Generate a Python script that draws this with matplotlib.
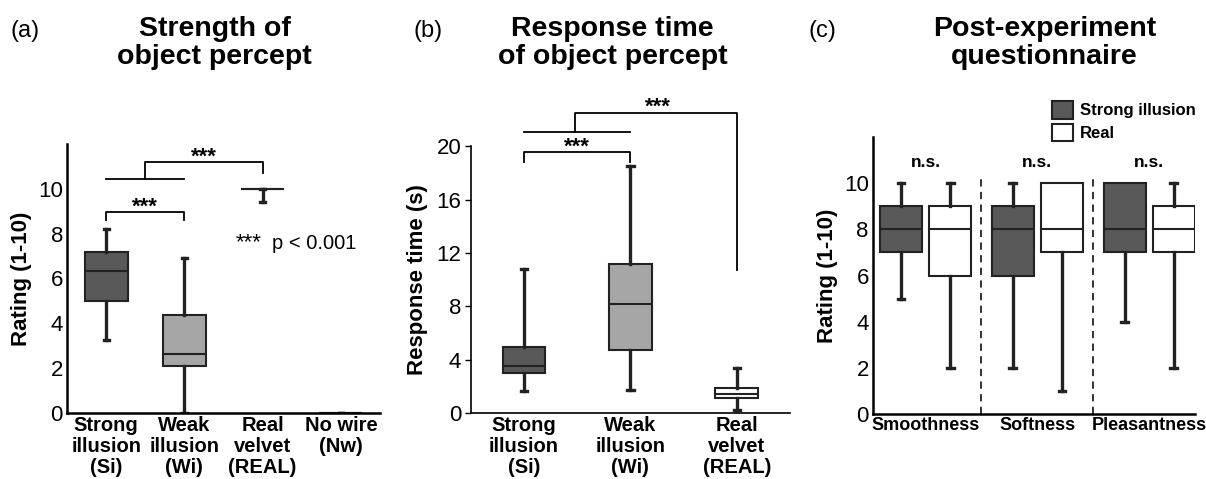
import matplotlib
matplotlib.use("Agg")
import matplotlib.pyplot as plt
from matplotlib.patches import Patch

plt.rcParams["font.family"] = ["Liberation Sans", "DejaVu Sans"]

# ── Data ───────────────────────────────────────────────────────────────────
# (a) strength of object percept: whislo, q1, med, q3, whishi
A_LABELS = ["Strong\nillusion\n(Si)", "Weak\nillusion\n(Wi)", "Real\nvelvet\n(REAL)", "No wire\n(Nw)"]
A_WHISLO = [3.25, 0.0, 9.4, 0.0]
A_Q1 = [5.0, 2.1, 10.0, 0.0]
A_MED = [6.35, 2.62, 10.0, 0.0]
A_Q3 = [7.2, 4.35, 10.0, 0.0]
A_WHISHI = [8.2, 6.9, 10.0, 0.0]

# (b) response time (s)
B_LABELS = ["Strong\nillusion\n(Si)", "Weak\nillusion\n(Wi)", "Real\nvelvet\n(REAL)"]
B_WHISLO = [1.65, 1.75, 0.25]
B_Q1 = [3.0, 4.75, 1.1]
B_MED = [3.55, 8.15, 1.4]
B_Q3 = [4.95, 11.2, 1.85]
B_WHISHI = [10.8, 18.5, 3.35]

# (c) questionnaire: Strong illusion vs Real for each item
C_ITEMS = ["Smoothness", "Softness", "Pleasantness"]
C_SI_WHISLO = [5, 2, 4]
C_SI_Q1 = [7, 6, 7]
C_SI_MED = [8, 8, 8]
C_SI_Q3 = [9, 9, 10]
C_SI_WHISHI = [10, 10, 10]
C_RE_WHISLO = [2, 1, 2]
C_RE_Q1 = [6, 7, 7]
C_RE_MED = [8, 8, 8]
C_RE_Q3 = [9, 10, 9]
C_RE_WHISHI = [10, 10, 10]

DARK = "#595959"
LIGHT = "#a6a6a6"
WHITE = "#ffffff"
EDGE = "#222222"


def stats(lo, q1, med, q3, hi):
    return [dict(whislo=a, q1=b, med=c, q3=d, whishi=e, fliers=[])
            for a, b, c, d, e in zip(lo, q1, med, q3, hi)]


def draw_boxes(ax, st, positions, colors, width):
    bp = ax.bxp(
        st, positions=positions, widths=width, patch_artist=True, showfliers=False,
        capwidths=0.06,
        boxprops=dict(edgecolor=EDGE, linewidth=1.5),
        medianprops=dict(color=EDGE, linewidth=1.5),
        whiskerprops=dict(color=EDGE, linewidth=2.4),
        capprops=dict(color=EDGE, linewidth=2.4),
    )
    for patch, c in zip(bp["boxes"], colors):
        patch.set_facecolor(c)
    # no cap where the whisker has zero length (box edge already marks it)
    for i, s in enumerate(st):
        if s["whishi"] == s["q3"] and s["q1"] != s["q3"]:
            bp["caps"][2 * i + 1].set_visible(False)
    return bp


def bracket(ax, x1, x2, y, drop, lw=1.3):
    ax.plot([x1, x1, x2, x2], [y - drop, y, y, y - drop], color="black", lw=lw, clip_on=False)


fig = plt.figure(figsize=(12.06, 4.79), dpi=100)

# ── (a) ────────────────────────────────────────────────────────────────────
axa = fig.add_axes([0.0556, 0.1378, 0.2595, 0.5616])
draw_boxes(axa, stats(A_WHISLO, A_Q1, A_MED, A_Q3, A_WHISHI), [1, 2, 3, 4],
           [DARK, LIGHT, WHITE, WHITE], 0.55)
axa.set_xlim(0.5, 4.5)
axa.set_ylim(0, 12)
axa.set_yticks([0, 2, 4, 6, 8, 10])
axa.set_xticks([1, 2, 3, 4])
axa.set_xticklabels(A_LABELS, fontsize=14.5, fontweight="bold", linespacing=1.15)
axa.set_ylabel("Rating (1-10)", fontsize=16, fontweight="bold", labelpad=4)
bracket(axa, 1, 2, 8.95, 0.35)
axa.text(1.5, 8.7, "***", ha="center", va="bottom", fontsize=16, fontweight="bold")
axa.plot([1, 2], [10.45, 10.45], color="black", lw=1.3)
axa.plot([1.49, 1.49, 3.0, 3.0], [10.45, 11.2, 11.2, 10.7], color="black", lw=1.3)
axa.text(2.25, 10.95, "***", ha="center", va="bottom", fontsize=16, fontweight="bold")
axa.text(2.65, 7.6, "***", ha="left", va="center", fontsize=16)
axa.text(3.12, 7.55, "p < 0.001", ha="left", va="center", fontsize=14.5)

# ── (b) ────────────────────────────────────────────────────────────────────
axb = fig.add_axes([0.3905, 0.1378, 0.2645, 0.557])
draw_boxes(axb, stats(B_WHISLO, B_Q1, B_MED, B_Q3, B_WHISHI), [1, 2, 3],
           [DARK, LIGHT, WHITE], 0.4)
axb.set_xlim(0.5, 3.5)
axb.set_ylim(0, 20)
axb.set_yticks([0, 4, 8, 12, 16, 20])
axb.set_xticks([1, 2, 3])
axb.set_xticklabels(B_LABELS, fontsize=14.5, fontweight="bold", linespacing=1.15)
axb.set_ylabel("Response time (s)", fontsize=16, fontweight="bold", labelpad=6)
bracket(axb, 1, 2, 19.55, 0.75)
axb.text(1.5, 19.1, "***", ha="center", va="bottom", fontsize=16, fontweight="bold")
axb.plot([1, 2], [21.1, 21.1], color="black", lw=1.3, clip_on=False)
axb.plot([1.48, 1.48, 3.0, 3.0], [21.1, 22.5, 22.5, 10.7], color="black", lw=1.3, clip_on=False)
axb.text(2.26, 22.1, "***", ha="center", va="bottom", fontsize=16, fontweight="bold")

# ── (c) ────────────────────────────────────────────────────────────────────
axc = fig.add_axes([0.7239, 0.1357, 0.267, 0.578])
groups = [1, 2, 3]
off = 0.22
draw_boxes(axc, stats(C_SI_WHISLO, C_SI_Q1, C_SI_MED, C_SI_Q3, C_SI_WHISHI),
           [g - off for g in groups], [DARK] * 3, 0.375)
draw_boxes(axc, stats(C_RE_WHISLO, C_RE_Q1, C_RE_MED, C_RE_Q3, C_RE_WHISHI),
           [g + off for g in groups], [WHITE] * 3, 0.375)
axc.set_xlim(0.53, 3.41)
axc.set_ylim(0, 12)
axc.set_yticks([0, 2, 4, 6, 8, 10])
axc.set_xticks(groups)
axc.set_xticklabels(C_ITEMS, fontsize=13, fontweight="bold")
axc.set_ylabel("Rating (1-10)", fontsize=16, fontweight="bold", labelpad=4)
for xs in [1.5, 2.5]:
    axc.plot([xs, xs], [0, 10.3], color=EDGE, lw=1.3, linestyle=(0, (4, 3)))
for g in groups:
    axc.text(g, 10.9, "n.s.", ha="center", va="center", fontsize=12.5, fontweight="bold")
handles = [Patch(facecolor=DARK, edgecolor=EDGE, linewidth=1.5),
           Patch(facecolor=WHITE, edgecolor=EDGE, linewidth=1.5)]
axc.legend(handles, ["Strong illusion", "Real"], loc="upper left",
           bbox_to_anchor=(0.8723, 0.789), bbox_transform=fig.transFigure,
           frameon=False, handlelength=1.25, handleheight=1.25, handletextpad=0.45,
           labelspacing=0.3, borderaxespad=0, borderpad=0,
           prop=dict(size=12, weight="bold"))

for ax, spw, tl in [(axa, 1.8, 0), (axb, 1.2, 4), (axc, 1.8, 0)]:
    ax.spines["top"].set_visible(False)
    ax.spines["right"].set_visible(False)
    ax.spines["left"].set_linewidth(spw)
    ax.spines["bottom"].set_linewidth(spw)
    ax.tick_params(axis="y", labelsize=16, length=tl, width=1.0, pad=3)
    ax.tick_params(axis="x", length=0, pad=2)

# ── Panel titles ───────────────────────────────────────────────────────────
for tag, tx, title, cx in [("(a)", 0.009, "Strength of\nobject percept", 0.178),
                           ("(b)", 0.343, "Response time\nof object percept", 0.508),
                           ("(c)", 0.670, "Post-experiment\nquestionnaire", 0.866)]:
    fig.text(tx, 0.958, tag, fontsize=17, ha="left", va="top")
    fig.text(cx, 0.967, title, fontsize=20.5, fontweight="bold", ha="center", va="top",
             linespacing=1.12)

fig.savefig("out.png", dpi=100)
